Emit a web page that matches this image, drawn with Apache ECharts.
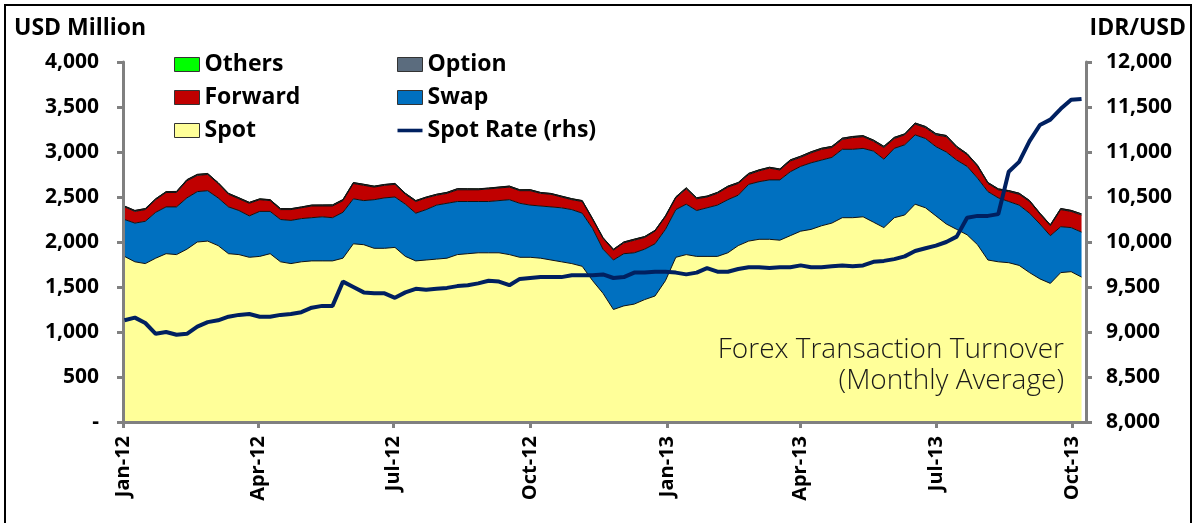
<!DOCTYPE html>
<html><head><meta charset="utf-8">
<script src="https://cdn.jsdelivr.net/npm/echarts@6/dist/echarts.min.js"></script>
<style>html,body{margin:0;padding:0;background:#fff;}#c{width:1194px;height:523px;}</style>
</head><body><div id="c"></div>
<script>
const dates = [
'2012-01-02','2012-01-09','2012-01-16','2012-01-23','2012-01-30','2012-02-06','2012-02-13','2012-02-20','2012-02-27','2012-03-05',
'2012-03-12','2012-03-19','2012-03-26','2012-04-02','2012-04-09','2012-04-16','2012-04-23','2012-04-30','2012-05-07','2012-05-14',
'2012-05-21','2012-05-28','2012-06-04','2012-06-11','2012-06-18','2012-06-25','2012-07-02','2012-07-09','2012-07-16','2012-07-23',
'2012-07-30','2012-08-06','2012-08-13','2012-08-20','2012-08-27','2012-09-03','2012-09-10','2012-09-17','2012-09-24','2012-10-01',
'2012-10-08','2012-10-15','2012-10-22','2012-10-29','2012-11-05','2012-11-12','2012-11-19','2012-11-26','2012-12-03','2012-12-10',
'2012-12-17','2012-12-24','2012-12-31','2013-01-07','2013-01-14','2013-01-21','2013-01-28','2013-02-04','2013-02-11','2013-02-18',
'2013-02-25','2013-03-04','2013-03-11','2013-03-18','2013-03-25','2013-04-01','2013-04-08','2013-04-15','2013-04-22','2013-04-29',
'2013-05-06','2013-05-13','2013-05-20','2013-05-27','2013-06-03','2013-06-10','2013-06-17','2013-06-24','2013-07-01','2013-07-08',
'2013-07-15','2013-07-22','2013-07-29','2013-08-05','2013-08-12','2013-08-19','2013-08-26','2013-09-02','2013-09-09','2013-09-16',
'2013-09-23','2013-09-30','2013-10-07'];

const spot = [
1840,1780,1760,1820,1870,1860,1920,2000,2010,1960,
1870,1860,1830,1840,1870,1780,1760,1780,1790,1790,
1790,1820,1980,1970,1930,1930,1940,1840,1790,1800,
1810,1820,1860,1870,1880,1880,1880,1860,1830,1830,
1820,1800,1780,1760,1730,1570,1430,1250,1290,1310,
1360,1400,1570,1830,1860,1840,1840,1840,1880,1960,
2010,2030,2030,2020,2070,2120,2140,2180,2210,2270,
2270,2280,2220,2160,2270,2300,2420,2380,2290,2200,
2140,2080,1970,1800,1780,1770,1740,1660,1590,1540,
1660,1670,1610];

const swap = [
410,430,470,510,520,530,570,560,560,530,
520,490,460,500,470,470,480,480,480,490,
480,510,500,490,540,560,560,580,530,560,
600,610,590,580,570,570,580,610,600,580,
580,590,600,600,590,580,490,550,580,570,
560,580,570,530,560,510,540,570,590,560,
630,640,660,670,710,720,740,730,730,760,
760,760,790,760,770,780,770,770,770,800,
770,760,740,760,710,680,670,660,610,530,
510,490,500];

const forward = [
140,130,130,140,160,160,190,180,180,160,
140,130,140,130,120,110,120,120,130,120,
130,130,170,170,140,140,140,110,130,130,
110,110,130,130,130,140,140,140,140,160,
140,140,120,110,130,100,120,110,120,140,
130,140,140,130,170,130,120,130,140,130,
110,120,130,110,120,100,110,120,110,110,
130,130,110,130,110,110,120,120,130,170,
140,130,130,90,90,110,120,130,110,110,
190,180,190];

const option = [
8,9,10,9,8,10,11,10,9,8,
9,10,9,8,9,10,9,8,9,10,
11,10,9,10,9,8,9,10,9,8,
9,10,11,10,9,8,9,10,9,10,
9,8,9,10,9,8,7,8,9,10,
9,8,9,10,11,10,9,10,9,10,
11,10,9,10,11,12,11,10,11,12,
11,10,11,12,11,10,11,12,13,12,
11,10,11,10,9,10,11,10,9,10,
11,10,11];

const others = [
2,2,2,2,2,2,2,2,2,2,
2,2,2,2,2,2,2,2,2,2,
2,2,2,2,2,2,2,2,2,2,
2,2,2,2,2,2,2,2,2,2,
2,2,2,2,2,2,2,2,2,2,
2,2,2,2,2,2,2,2,2,2,
2,2,2,2,2,2,2,2,2,2,
2,2,2,2,2,2,2,2,2,2,
2,2,2,2,2,2,2,2,2,2,
2,2,2];

const spotRate = [
9130,9160,9100,8980,9000,8970,8980,9060,9110,9130,
9170,9190,9200,9170,9170,9190,9200,9220,9270,9290,
9290,9560,9500,9440,9430,9430,9380,9440,9480,9470,
9480,9490,9510,9520,9540,9570,9560,9520,9590,9600,
9610,9610,9610,9630,9630,9630,9640,9600,9610,9660,
9660,9670,9670,9660,9640,9660,9710,9670,9670,9700,
9720,9720,9710,9720,9720,9740,9720,9720,9730,9740,
9730,9740,9780,9790,9810,9840,9900,9930,9960,10000,
10060,10270,10290,10290,10310,10780,10890,11120,11300,11360,
11480,11580,11590];

const xTickDates = ['2012-01-01','2012-04-01','2012-07-01','2012-10-01','2013-01-01','2013-04-01','2013-07-01','2013-10-01'];
const xTickLabels = ['Jan-12','Apr-12','Jul-12','Oct-12','Jan-13','Apr-13','Jul-13','Oct-13'];
const xMinDate = '2012-01-01';
const xMaxDate = '2013-10-10';

const colors = {spot:'#FFFF99', swap:'#0070C0', forward:'#C00000', option:'#5B6C7E', others:'#00FF00', rate:'#002060'};

const DAY = 86400000;
function ts(s){ const p = s.split('-').map(Number); return Date.UTC(p[0], p[1]-1, p[2]); }
function pairs(arr){ return arr.map((v,i)=>[ts(dates[i]), v]); }
function fmt(v){ return String(v).replace(/\B(?=(\d{3})+(?!\d))/g, ','); }

const tickTs = xTickDates.map(ts);
function xLabel(v){
  for (let i = 0; i < tickTs.length; i++) { if (Math.abs(tickTs[i] - v) < DAY) return xTickLabels[i]; }
  return '';
}
const FONT = 'Open Sans';
const axisGrey = '#808080';

function areaSeries(name, arr, color){
  return {
    name, type:'line', stack:'fx', yAxisIndex:0, symbol:'none', data:pairs(arr),
    lineStyle:{color:'#111', width:1}, areaStyle:{color:color, opacity:1},
    itemStyle:{color:color}, z:2, emphasis:{disabled:true}
  };
}

const legendText = {fontSize:23, fontWeight:'bold', color:'#000', fontFamily:FONT};

const option_ = {
  animation:false,
  useUTC:true,
  backgroundColor:'#fff',
  grid:{left:123, right:108, top:62, bottom:101, containLabel:false},
  legend:[
    {left:174, top:53, padding:0, orient:'vertical', itemWidth:25, itemHeight:14, itemGap:10, selectedMode:false,
     textStyle:legendText,
     data:[
       {name:'Others', icon:'rect', itemStyle:{color:colors.others, borderColor:'#333', borderWidth:1}},
       {name:'Forward', icon:'rect', itemStyle:{color:colors.forward, borderColor:'#333', borderWidth:1}},
       {name:'Spot', icon:'rect', itemStyle:{color:colors.spot, borderColor:'#333', borderWidth:1}}
     ]},
    {left:397, top:53, padding:0, orient:'vertical', itemWidth:25, itemHeight:14, itemGap:10, selectedMode:false,
     textStyle:legendText,
     data:[
       {name:'Option', icon:'rect', itemStyle:{color:colors.option, borderColor:'#333', borderWidth:1}},
       {name:'Swap', icon:'rect', itemStyle:{color:colors.swap, borderColor:'#333', borderWidth:1}},
       {name:'Spot Rate (rhs)', icon:'path://M0,0H28V4H0Z', itemStyle:{color:colors.rate, borderWidth:0}}
     ]}
  ],
  xAxis:{
    type:'time', min:ts(xMinDate), max:ts(xMaxDate), z:3,
    minInterval:88*DAY, maxInterval:93*DAY,
    axisLine:{show:true, onZero:false, lineStyle:{color:axisGrey, width:3}},
    axisTick:{show:true, length:6, lineStyle:{color:axisGrey, width:3}},
    minorTick:{show:false},
    axisLabel:{rotate:90, margin:14, fontSize:20, fontWeight:'bold', color:'#000', fontFamily:FONT,
      showMinLabel:true, showMaxLabel:false, hideOverlap:false, formatter:xLabel},
    splitLine:{show:false}
  },
  yAxis:[
    {type:'value', position:'left', min:0, max:4000, interval:500, z:3,
     axisLine:{show:true, lineStyle:{color:axisGrey, width:3}},
     axisTick:{show:true, length:6, lineStyle:{color:axisGrey, width:3}},
     axisLabel:{margin:24, fontSize:21, fontWeight:'bold', color:'#000', fontFamily:FONT,
       formatter:function(v){ return v===0 ? '-' : fmt(v); }},
     splitLine:{show:false}},
    {type:'value', position:'right', min:8000, max:12000, interval:500, z:3,
     axisLine:{show:true, lineStyle:{color:axisGrey, width:3}},
     axisTick:{show:true, length:6, lineStyle:{color:axisGrey, width:3}},
     axisLabel:{margin:20, fontSize:21, fontWeight:'bold', color:'#000', fontFamily:FONT, formatter:fmt},
     splitLine:{show:false}}
  ],
  series:[
    areaSeries('Spot', spot, colors.spot),
    areaSeries('Swap', swap, colors.swap),
    areaSeries('Forward', forward, colors.forward),
    areaSeries('Option', option, colors.option),
    areaSeries('Others', others, colors.others),
    {name:'Spot Rate (rhs)', type:'line', yAxisIndex:1, symbol:'none', data:pairs(spotRate),
     lineStyle:{color:colors.rate, width:4}, itemStyle:{color:colors.rate}, z:5, emphasis:{disabled:true}}
  ],
  graphic:[
    {type:'rect', silent:true, shape:{x:5, y:5, width:1186, height:600}, style:{fill:'none', stroke:'#000', lineWidth:2}},
    {type:'text', x:14, y:28, silent:true, style:{text:'USD Million', fontSize:23, fontWeight:'bold', fontFamily:FONT, fill:'#000', align:'left', verticalAlign:'middle'}},
    {type:'text', x:1186, y:28, silent:true, style:{text:'IDR/USD', fontSize:23, fontWeight:'bold', fontFamily:FONT, fill:'#000', align:'right', verticalAlign:'middle'}},
    {type:'text', x:1064, y:350, silent:true, z:10, style:{text:'Forex Transaction Turnover', fontSize:28, fontWeight:300, fontFamily:FONT, fill:'#1a1a1a', align:'right', verticalAlign:'middle'}},
    {type:'text', x:1064, y:381, silent:true, z:10, style:{text:'(Monthly Average)', fontSize:28, fontWeight:300, fontFamily:FONT, fill:'#1a1a1a', align:'right', verticalAlign:'middle'}}
  ]
};

const chart = echarts.init(document.getElementById('c'), null, {renderer:'canvas'});
chart.setOption(option_);
</script>
</body></html>
